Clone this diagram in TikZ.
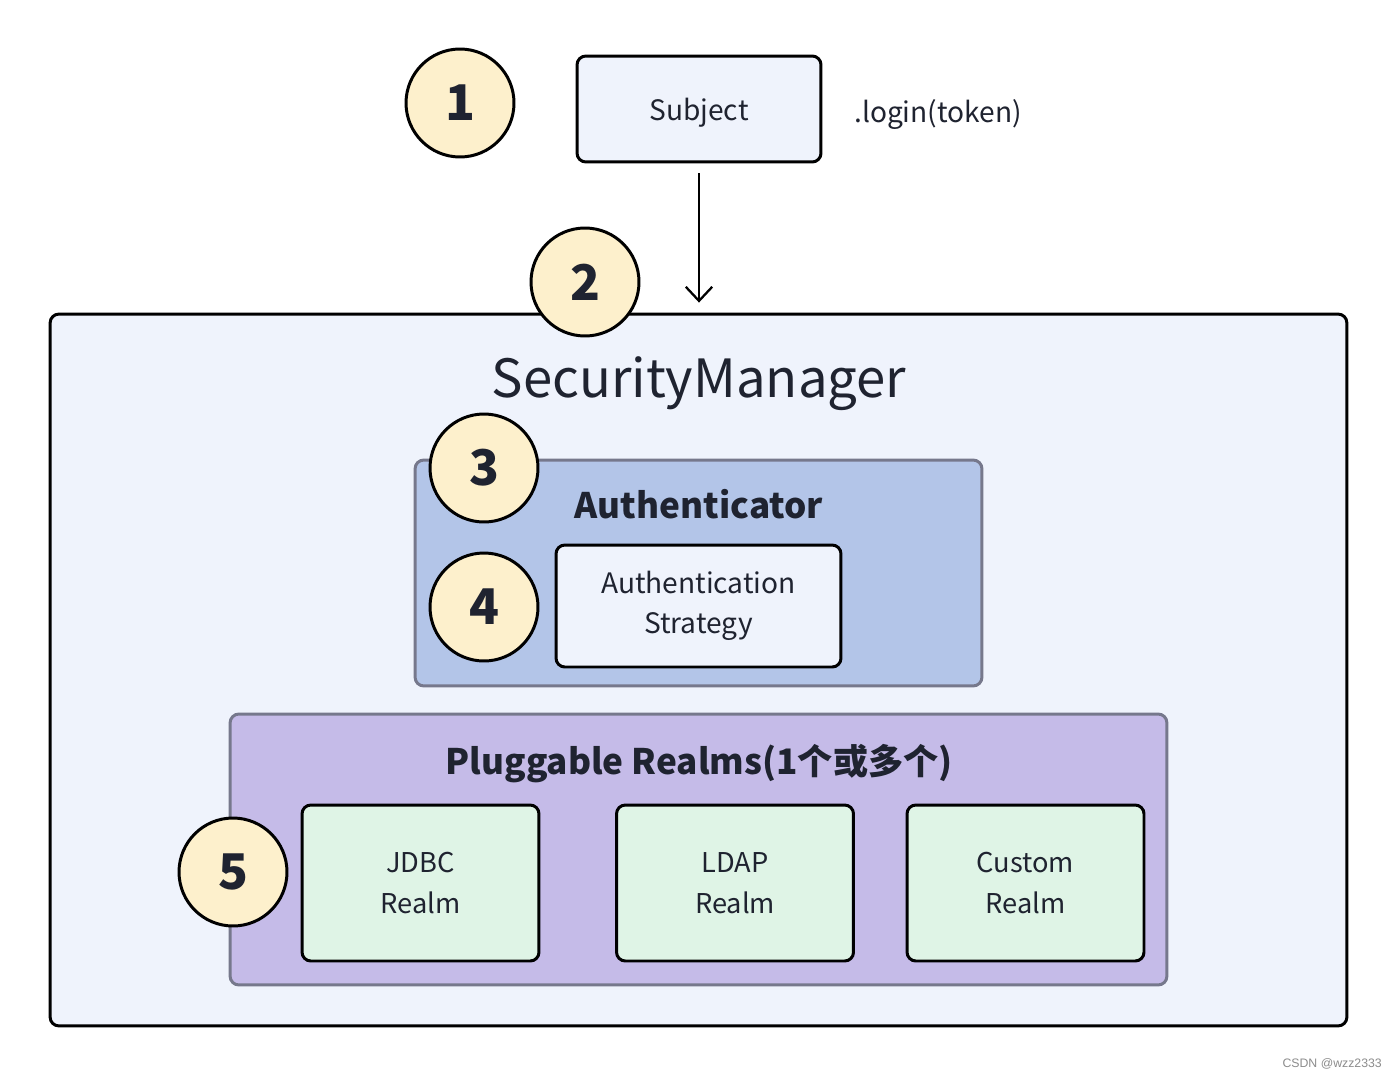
\documentclass[tikz,border=0pt]{standalone}
\usepackage{fontspec}
\setmainfont{Noto Sans CJK SC}
\newfontfamily\wmfont{Liberation Sans}
\usetikzlibrary{arrows.meta}
\definecolor{smfill}{HTML}{EFF3FC}
\definecolor{authfill}{HTML}{B3C5E8}
\definecolor{realmfill}{HTML}{C5BBE8}
\definecolor{leaffill}{HTML}{DFF4E6}
\definecolor{numfill}{HTML}{FDF0CC}
\definecolor{groupline}{HTML}{76788C}
\definecolor{ink}{HTML}{1F2330}
\begin{document}
\begin{tikzpicture}[x=0.02cm,y=-0.02cm]
	\tikzstyle{box}=[rectangle,rounded corners=5pt,draw=black,line width=1.7pt,inner sep=0pt,text=ink,align=center]
	\tikzstyle{group}=[rectangle,rounded corners=5pt,draw=groupline,line width=1.7pt,inner sep=0pt]
	\tikzstyle{num}=[circle,draw=black,line width=1.7pt,fill=numfill,minimum size=2.16cm,inner sep=0pt,text=ink,font=\fontsize{28}{30}\selectfont\bfseries]
	\tikzstyle{edge}=[draw=black,line width=1.3pt,>={Straight Barb[length=8pt,width=15pt]}]

	\useasboundingbox[fill=white] (0,0) rectangle (1398,1078);

	% outer manager
	\node [box,fill=smfill,minimum width=25.94cm,minimum height=14.24cm] (sm) at (698.5,670) {};
	\node [text=ink,font=\fontsize{30}{34}\selectfont] (smtitle) at (699,384) {SecurityManager};

	% subject
	\node [box,fill=smfill,minimum width=4.88cm,minimum height=2.12cm,text depth=0pt,font=\fontsize{16}{20}\selectfont] (subject) at (699,109) {Subject};
	\node [text=ink,font=\fontsize{16}{20}\selectfont] (login) at (938,115) {.login(token)};
	\path[edge,->,shorten <=5.7pt,shorten >=5.7pt] (subject.south) -- (subject.south |- sm.north);

	% authenticator
	\node [group,fill=authfill,minimum width=11.34cm,minimum height=4.52cm] (auth) at (698.5,573) {};
	\node [text=ink,font=\fontsize{20}{24}\selectfont\bfseries] (authtitle) at (699,504) {Authenticator};
	\node [box,fill=smfill,minimum width=5.7cm,minimum height=2.44cm,font=\fontsize{16}{23}\selectfont] (strategy) at (698.5,606) {Authentication\\Strategy};

	% realms
	\node [group,fill=realmfill,minimum width=18.74cm,minimum height=5.42cm] (realms) at (698.5,849.5) {};
	\node [text=ink,font=\fontsize{20}{24}\selectfont\bfseries] (realmstitle) at (699,764) {Pluggable Realms(1个或多个)};
	\node [box,fill=leaffill,minimum width=4.74cm,minimum height=3.12cm,font=\fontsize{15.5}{23}\selectfont] (jdbc) at (420.5,883) {JDBC\\Realm};
	\node [box,fill=leaffill,minimum width=4.74cm,minimum height=3.12cm,font=\fontsize{15.5}{23}\selectfont] (ldap) at (735,883) {LDAP\\Realm};
	\node [box,fill=leaffill,minimum width=4.74cm,minimum height=3.12cm,font=\fontsize{15.5}{23}\selectfont] (custom) at (1025.5,883) {Custom\\Realm};

	% step numbers
	\node [num] (n1) at (460,103) {1};
	\node [num] (n2) at (585,282) {2};
	\node [num] (n3) at (484,468) {3};
	\node [num] (n4) at (484,607) {4};
	\node [num] (n5) at (233,872) {5};

	\node [anchor=east,text=black!45,font=\wmfont\fontsize{7}{8}\selectfont] (mark) at (1388,1064) {CSDN @wzz2333};
\end{tikzpicture}
\end{document}
